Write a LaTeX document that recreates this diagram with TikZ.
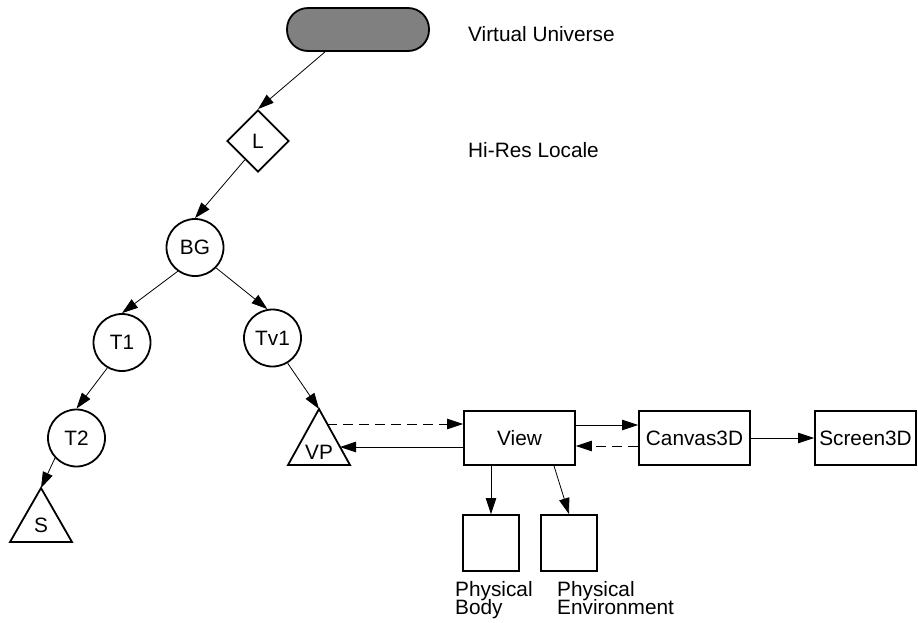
\documentclass[tikz,border=0pt]{standalone}
\usepackage{fontspec}
\setmainfont{Liberation Sans}
\usetikzlibrary{arrows.meta,shapes.geometric}
\begin{document}
\begin{tikzpicture}[x=1pt,y=-1pt,
  every node/.style={font=\fontsize{20.8}{16.7}\selectfont},
  shp/.style={draw,line width=1.8pt,inner sep=0pt},
  circ/.style={shp,circle,minimum size=57pt},
  boxn/.style={shp,rectangle,minimum height=54pt},
  tri/.style={draw,line width=1.8pt,line join=miter},
  edge/.style={line width=0.8pt,-{Triangle[length=16pt,width=10.5pt]}},
  dedge/.style={edge,dash pattern=on 10pt off 6pt},
  lbl/.style={anchor=base west,inner sep=0pt},
  lbltop/.style={lbl,text depth=0pt}
]
\useasboundingbox (0,0) rectangle (918,622);

% nodes
\node[shp,rounded corners=21pt,fill=gray,minimum width=142pt,minimum height=43pt] (U) at (358,29.5) {};
\node[shp,diamond,minimum size=62pt] (L) at (258,141) {L};
\node[circ] (BG) at (195,247.5) {BG};
\node[circ] (T1) at (122,342.5) {T1};
\node[circ] (Tv1) at (272.5,338) {Tv1};
\node[circ] (T2) at (76.5,438) {T2};

% triangles
\draw[tri] (288,465) -- (319,409) -- (350,465) -- cycle;
\coordinate (VPtop) at (319,409);
\coordinate (VPr1) at (327.3,424);
\coordinate (VPr2) at (340,447);
\node (VP) at (319,452) {VP};

\draw[tri] (10,542) -- (41,488) -- (72,542) -- cycle;
\coordinate (Stop) at (41,488);
\node (S) at (41,525) {S};

% boxes
\node[boxn,minimum width=111pt] (V) at (519.5,438) {View};
\node[boxn,minimum width=111pt] (C) at (694.5,438) {Canvas3D};
\node[boxn,minimum width=101pt] (SC) at (865.5,438) {Screen3D};
\node[shp,minimum size=56pt] (PB) at (491,543) {};
\node[shp,minimum size=56pt] (PE) at (569,543) {};

% labels
\node[lbl] (tVU) at (468,41) {Virtual Universe};
\node[lbl] (tHR) at (468,157) {Hi-Res Locale};
\node[lbltop] (tPB1) at (455,596) {Physical};
\node[lbl,text height=11pt] (tPB2) at (455,614) {Body};
\node[lbltop] (tPE1) at (557,596) {Physical};
\node[lbl,text height=11pt] (tPE2) at (557,614) {Environment};

% edges
\draw[edge] ([xshift=-33pt]U.south) -- (L.north);
\draw[edge] (L.-125) -- (BG.north);
\draw[edge] (BG.-126) -- (T1.north);
\draw[edge] (BG.-44) -- (Tv1.100);
\draw[edge] (T1.-120) -- (T2.north);
\draw[edge] (T2.-137) -- (Stop);
\draw[edge] (Tv1.-59) -- (VPtop);
\draw[dedge] (VPr1) -- (VPr1 -| V.west);
\draw[edge] (VPr2 -| V.west) -- (VPr2);
\draw[edge] ([yshift=13pt]V.east) -- ([yshift=13pt]C.west);
\draw[dedge] ([yshift=-8pt]C.west) -- ([yshift=-8pt]V.east);
\draw[edge] (C.east) -- (SC.west);
\draw[edge] (PB.north |- V.south) -- (PB.north);
\draw[edge] ([xshift=34.5pt]V.south) -- (PE.north);
\end{tikzpicture}
\end{document}
